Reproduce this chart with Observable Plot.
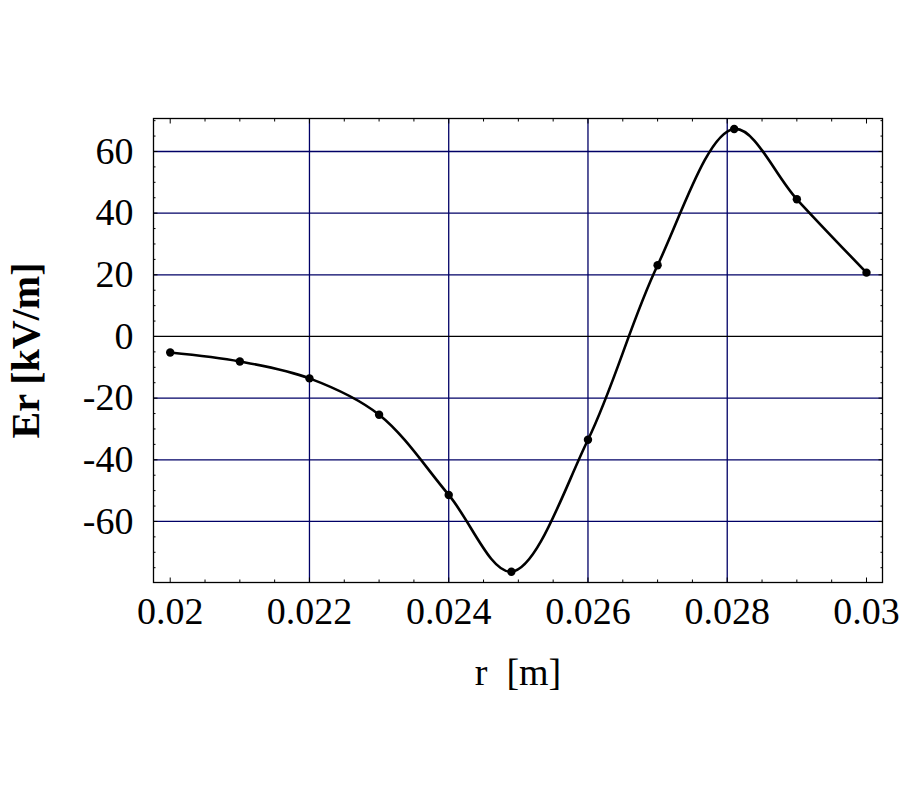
<!DOCTYPE html>
<html>
<head>
<meta charset="utf-8">
<script src="https://cdn.jsdelivr.net/npm/d3@7"></script>
<script src="https://cdn.jsdelivr.net/npm/@observablehq/plot@0.6"></script>
<style>
  html, body { margin: 0; padding: 0; background: #fff; }
</style>
</head>
<body>
<div id="chart"></div>
<script>
// Data
const r  = [0.020, 0.021, 0.022, 0.023, 0.024, 0.0249, 0.026, 0.027, 0.0281, 0.029, 0.030];
const Er = [-5.2, -8.1, -13.6, -25.4, -51.4, -76.3, -33.5, 23.1, 67.3, 44.5, 20.7];

// Tick values / labels
const xMajor = [0.020, 0.022, 0.024, 0.026, 0.028, 0.030];
const xMinor = [0.0205, 0.021, 0.0215, 0.0225, 0.023, 0.0235, 0.0245, 0.025, 0.0255,
                0.0265, 0.027, 0.0275, 0.0285, 0.029, 0.0295];
const xLabels = ["0.02", "0.022", "0.024", "0.026", "0.028", "0.03"];
const yMajor = [-60, -40, -20, 0, 20, 40, 60];
const yMinor = [-75, -70, -65, -55, -50, -45, -35, -30, -25, -15, -10, -5,
                5, 10, 15, 25, 30, 35, 45, 50, 55, 65, 70];
const yLabels = ["-60", "-40", "-20", "0", "20", "40", "60"];
const xGrid = [0.022, 0.024, 0.026, 0.028];
const yGrid = [-60, -40, -20, 20, 40, 60];
const xTitle = "r\u00a0\u00a0[m]";
const yTitle = "Er [kV/m]";

const data = r.map((v, i) => ({r: v, Er: Er[i]}));
const font = "'Liberation Serif', 'Times New Roman', serif";
const gridColor = "#000066";

const chart = Plot.plot({
  width: 900,
  height: 800,
  marginLeft: 153,
  marginRight: 18,
  marginTop: 118,
  marginBottom: 218,
  style: {fontFamily: font, background: "#fff", color: "#000"},
  x: {domain: [0.01976, 0.03023]},
  y: {domain: [-79.8, 70.7]},
  marks: [
    Plot.ruleX(xGrid, {stroke: gridColor, strokeWidth: 1.3}),
    Plot.ruleY(yGrid, {stroke: gridColor, strokeWidth: 1.3}),
    Plot.ruleY([0], {stroke: "#000", strokeWidth: 1.3}),
    // inward ticks on all four sides
    Plot.axisX(xMajor, {anchor: "bottom", tickSize: -4.5, tickFormat: () => "", label: null}),
    Plot.axisX(xMajor, {anchor: "top", tickSize: -4.5, tickFormat: () => "", label: null}),
    Plot.axisX(xMinor, {anchor: "bottom", tickSize: -2.5, tickFormat: () => "", label: null}),
    Plot.axisX(xMinor, {anchor: "top", tickSize: -2.5, tickFormat: () => "", label: null}),
    Plot.axisY(yMajor, {anchor: "left", tickSize: -4.5, tickFormat: () => "", label: null}),
    Plot.axisY(yMajor, {anchor: "right", tickSize: -4.5, tickFormat: () => "", label: null}),
    Plot.axisY(yMinor, {anchor: "left", tickSize: -2.5, tickFormat: () => "", label: null}),
    Plot.axisY(yMinor, {anchor: "right", tickSize: -2.5, tickFormat: () => "", label: null}),
    // tick labels
    Plot.axisX(xMajor, {anchor: "bottom", tickSize: 0, tickPadding: 15, fontSize: 38,
      tickFormat: (d, i) => xLabels[i], label: null}),
    Plot.axisY(yMajor, {anchor: "left", tickSize: 0, tickPadding: 20, fontSize: 38,
      tickFormat: (d, i) => yLabels[i], label: null}),
    // axis titles
    Plot.text([xTitle], {frameAnchor: "bottom", dy: 90, fontSize: 38, lineAnchor: "middle"}),
    Plot.text([yTitle], {frameAnchor: "left", dx: -127, rotate: -90, fontSize: 40,
      fontWeight: "bold", textAnchor: "middle", lineAnchor: "middle"}),
    Plot.frame({stroke: "#000", strokeWidth: 1.3}),
    // curve and points
    Plot.line(data, {x: "r", y: "Er", curve: "catmull-rom", stroke: "#000", strokeWidth: 2.6}),
    Plot.dot(data, {x: "r", y: "Er", r: 4.2, fill: "#000", stroke: "none"})
  ]
});
document.getElementById("chart").appendChild(chart);
</script>
</body>
</html>
